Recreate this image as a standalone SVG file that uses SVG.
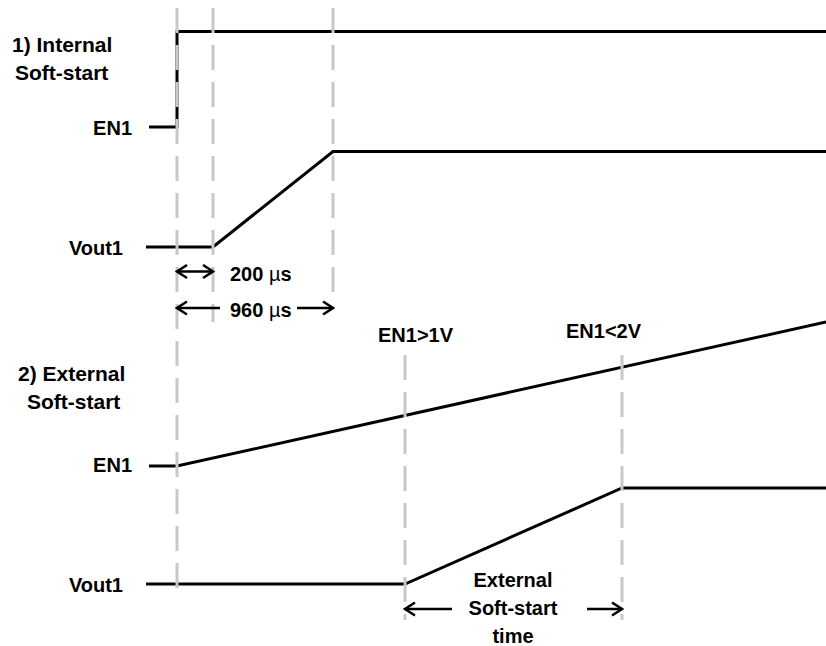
<svg xmlns="http://www.w3.org/2000/svg" width="826" height="646" viewBox="0 0 826 646">
<defs>
<style>
.sig{fill:none;stroke:#000;stroke-width:3;stroke-linejoin:miter}
.grid{fill:none;stroke:#c8c8c8;stroke-width:3;stroke-dasharray:25 12}
.dim{fill:none;stroke:#000;stroke-width:2.5}
text{font-family:"Liberation Sans",Arial,sans-serif;font-weight:bold;font-size:20px;fill:#000}
.sec{font-size:21px}
.mu{font-weight:normal}
</style>
<marker id="ah" viewBox="-12 -8 14 16" refX="0" refY="0" markerWidth="14" markerHeight="16" markerUnits="userSpaceOnUse" orient="auto-start-reverse">
<path d="M-10,-6.5 L0,0 L-10,6.5" fill="none" stroke="#000" stroke-width="2.5"/>
</marker>
</defs>
<rect width="826" height="646" fill="#fff"/>
<g id="signals">
<g id="int-en1"><polyline class="sig" points="149,127 177,127 177,31.5 826,31.5"/></g>
<g id="int-vout1"><polyline class="sig" points="146,247 213,247 333,151.5 826,151.5"/></g>
<g id="ext-en1"><polyline class="sig" points="149,466 177,466 826,322"/></g>
<g id="ext-vout1"><polyline class="sig" points="146,584 405,584 622,488 826,488"/></g>
</g>
<g id="gridlines">
<line class="grid" x1="177" y1="8" x2="177" y2="597"/>
<line class="grid" x1="213" y1="8" x2="213" y2="322"/>
<line class="grid" x1="333" y1="8" x2="333" y2="293"/>
<line class="grid" x1="405" y1="355" x2="405" y2="620"/>
<line class="grid" x1="622" y1="355" x2="622" y2="620"/>
</g>
<g id="connectors">
<line class="dim" x1="177" y1="271.5" x2="213" y2="271.5" marker-start="url(#ah)" marker-end="url(#ah)"/>
<line class="dim" x1="220" y1="308" x2="177" y2="308" marker-end="url(#ah)"/>
<line class="dim" x1="297" y1="308" x2="333" y2="308" marker-end="url(#ah)"/>
<line class="dim" x1="452" y1="609" x2="405" y2="609" marker-end="url(#ah)"/>
<line class="dim" x1="587" y1="609" x2="622" y2="609" marker-end="url(#ah)"/>
</g>
<g id="labels">
<text class="sec" x="12" y="52">1) Internal</text>
<text class="sec" x="15" y="80">Soft-start</text>
<text x="132" y="135" text-anchor="end">EN1</text>
<text x="123" y="255" text-anchor="end">Vout1</text>
<text x="230" y="281">200 <tspan class="mu">µ</tspan>s</text>
<text x="230" y="317">960 <tspan class="mu">µ</tspan>s</text>
<text x="378" y="342">EN1&gt;1V</text>
<text x="566" y="338">EN1&lt;2V</text>
<text class="sec" x="18" y="381">2) External</text>
<text class="sec" x="27" y="409">Soft-start</text>
<text x="132" y="472" text-anchor="end">EN1</text>
<text x="123" y="592" text-anchor="end">Vout1</text>
<text x="513" y="587" text-anchor="middle">External</text>
<text x="513" y="615" text-anchor="middle">Soft-start</text>
<text x="513" y="643" text-anchor="middle">time</text>
</g>
</svg>
